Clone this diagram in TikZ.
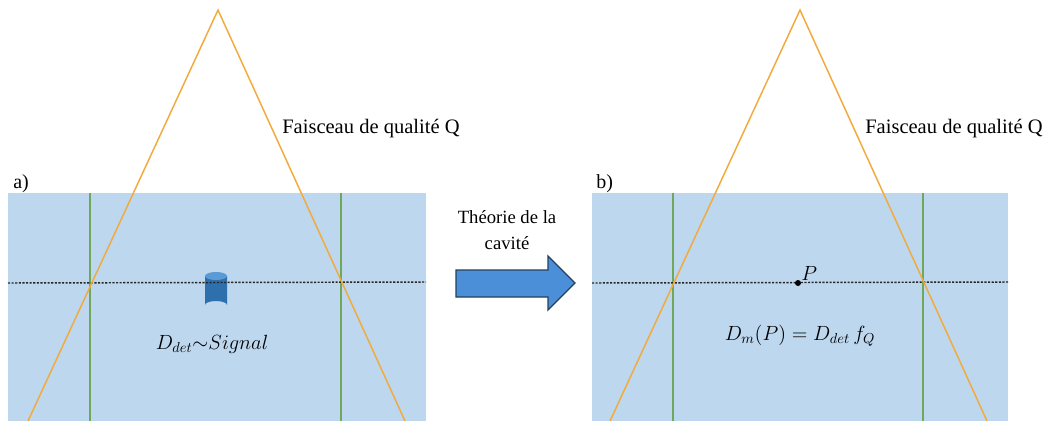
\documentclass[tikz,border=0pt]{standalone}
\usepackage{fix-cm}
\usepackage{amsmath}
\usepackage{fontspec}
\setmainfont{Liberation Serif}
\definecolor{water}{HTML}{BDD7EE}
\definecolor{beam}{HTML}{F2AA3C}
\definecolor{edge}{HTML}{6FA85A}
\definecolor{cylblue}{HTML}{2E6FAE}
\definecolor{cyltop}{HTML}{5B9BD5}
\definecolor{arrfill}{HTML}{4A8FD8}
\definecolor{arrline}{HTML}{24405E}
\begin{document}
\begin{tikzpicture}[x=0.75pt,y=-0.75pt,
  tank/.style={fill=water,draw=none},
  beamline/.style={draw=beam,line width=1.1pt},
  limit/.style={draw=edge,line width=0.9pt},
  axisline/.style={draw=black!85,line width=1.1pt,dash pattern=on 1.6pt off 1.1pt},
  caption/.style={font=\fontsize{14}{17}\selectfont,inner sep=0pt},
  beamlabel/.style={font=\fontsize{15.4}{18}\selectfont,inner sep=0pt},
  panel/.style={font=\fontsize{15}{18}\selectfont,inner sep=0pt},
  formula/.style={font=\fontsize{15.4}{18}\selectfont,inner sep=0pt}]
\useasboundingbox (0,0) rectangle (1044,421);
% ---------- panel a ----------
\fill[tank] (8,193) rectangle (426,421);
\draw[limit] (90,193) -- (90,421);
\draw[limit] (341,193) -- (341,421);
% detector cylinder
\fill[cylblue] (205,276) -- (205,305) arc[start angle=180,end angle=360,x radius=11,y radius=4] -- (227,276) -- cycle;
\fill[cyltop] (216,276) ellipse[x radius=11,y radius=4];
\draw[axisline] (8,283) -- (426,282);
\coordinate (apexA) at (218,10);
\coordinate (blA) at (28,421);
\coordinate (brA) at (405,421);
\draw[beamline] (blA) -- (apexA) -- (brA);
\node[panel,anchor=west] (la) at (13,184) {a)};
\node[beamlabel,anchor=west] (fa) at (282,129) {Faisceau de qualité Q};
\node[formula] (da) at (212,344) {$D_{det}{\sim}Signal$};
% ---------- arrow ----------
\node[caption,align=center] (th) at (507,230) {Théorie de la\\[2pt]cavité};
\draw[fill=arrfill,draw=arrline,line width=1pt,line join=miter]
  (456,270) -- (548,270) -- (548,256) -- (575,283) -- (548,310) -- (548,297) -- (456,297) -- cycle;
% ---------- panel b ----------
\fill[tank] (592,193) rectangle (1008,421);
\draw[limit] (673,193) -- (673,421);
\draw[limit] (923,193) -- (923,421);
\draw[axisline] (592,283) -- (1008,282);
\coordinate (apexB) at (800,10);
\coordinate (blB) at (610,421);
\coordinate (brB) at (987,421);
\draw[beamline] (blB) -- (apexB) -- (brB);
\fill[black] (798,283) circle[radius=3];
\node[formula,anchor=south west] (pp) at (801,281) {$P$};
\node[panel,anchor=west] (lb) at (596,184) {b)};
\node[beamlabel,anchor=west] (fb) at (865,129) {Faisceau de qualité Q};
\node[formula] (db) at (800,336) {$D_m(P) = D_{det}\, f_Q$};
\end{tikzpicture}
\end{document}
